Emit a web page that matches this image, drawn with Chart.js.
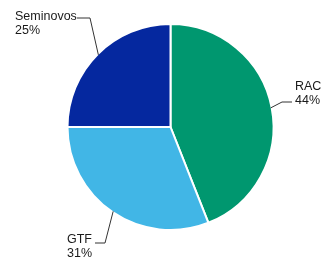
<!DOCTYPE html>
<html>
<head>
<meta charset="utf-8">
<script src="https://cdn.jsdelivr.net/npm/chart.js@4/dist/chart.umd.min.js"></script>
<style>
  html, body { margin: 0; padding: 0; background: #fff; }
  canvas { display: block; }
</style>
</head>
<body>
<canvas id="pie" width="322" height="261"></canvas>
<script>
// data
const categories = ["RAC", "GTF", "Seminovos"];
const shares = [44, 31, 25];
const colors = ["#00976f", "#41b6e6", "#05289f"];

// where each label sits (elbow of leader line, end of line, text origin)
const labelLayout = [
  { elbow: [282, 102], end: [292, 102], text: [295, 90] },
  { elbow: [105, 243], end: [95, 243], text: [67, 243] },
  { elbow: [90, 18], end: [77, 18], text: [15, 20] },
];

const leaderLabels = {
  id: "leaderLabels",
  afterDraw(chart) {
    const ctx = chart.ctx;
    const arcs = chart.getDatasetMeta(0).data;
    ctx.save();
    arcs.forEach((arc, i) => {
      const p = arc.getProps(["x", "y", "startAngle", "endAngle", "outerRadius"], true);
      const mid = (p.startAngle + p.endAngle) / 2;
      const ax = p.x + Math.cos(mid) * (p.outerRadius - 1);
      const ay = p.y + Math.sin(mid) * (p.outerRadius - 1);
      const lay = labelLayout[i];

      ctx.strokeStyle = "#333";
      ctx.lineWidth = 1;
      ctx.beginPath();
      ctx.moveTo(ax, ay);
      ctx.lineTo(lay.elbow[0], lay.elbow[1]);
      ctx.lineTo(lay.end[0], lay.end[1]);
      ctx.stroke();

      ctx.fillStyle = "#1a1a1a";
      ctx.font = "12.5px 'Liberation Sans', Arial, sans-serif";
      ctx.textAlign = "left";
      ctx.textBaseline = "alphabetic";
      ctx.fillText(categories[i], lay.text[0], lay.text[1]);
      ctx.fillText(shares[i] + "%", lay.text[0], lay.text[1] + 14);
    });
    ctx.restore();
  },
};

new Chart(document.getElementById("pie"), {
  type: "pie",
  data: {
    labels: categories,
    datasets: [{
      data: shares,
      backgroundColor: colors,
      borderColor: "#fff",
      borderWidth: 2,
      radius: 103,
    }],
  },
  options: {
    responsive: false,
    animation: false,
    layout: { padding: { left: 68, right: 49, top: 24, bottom: 31 } },
    plugins: {
      legend: { display: false },
      tooltip: { enabled: false },
    },
  },
  plugins: [leaderLabels],
});
</script>
</body>
</html>
